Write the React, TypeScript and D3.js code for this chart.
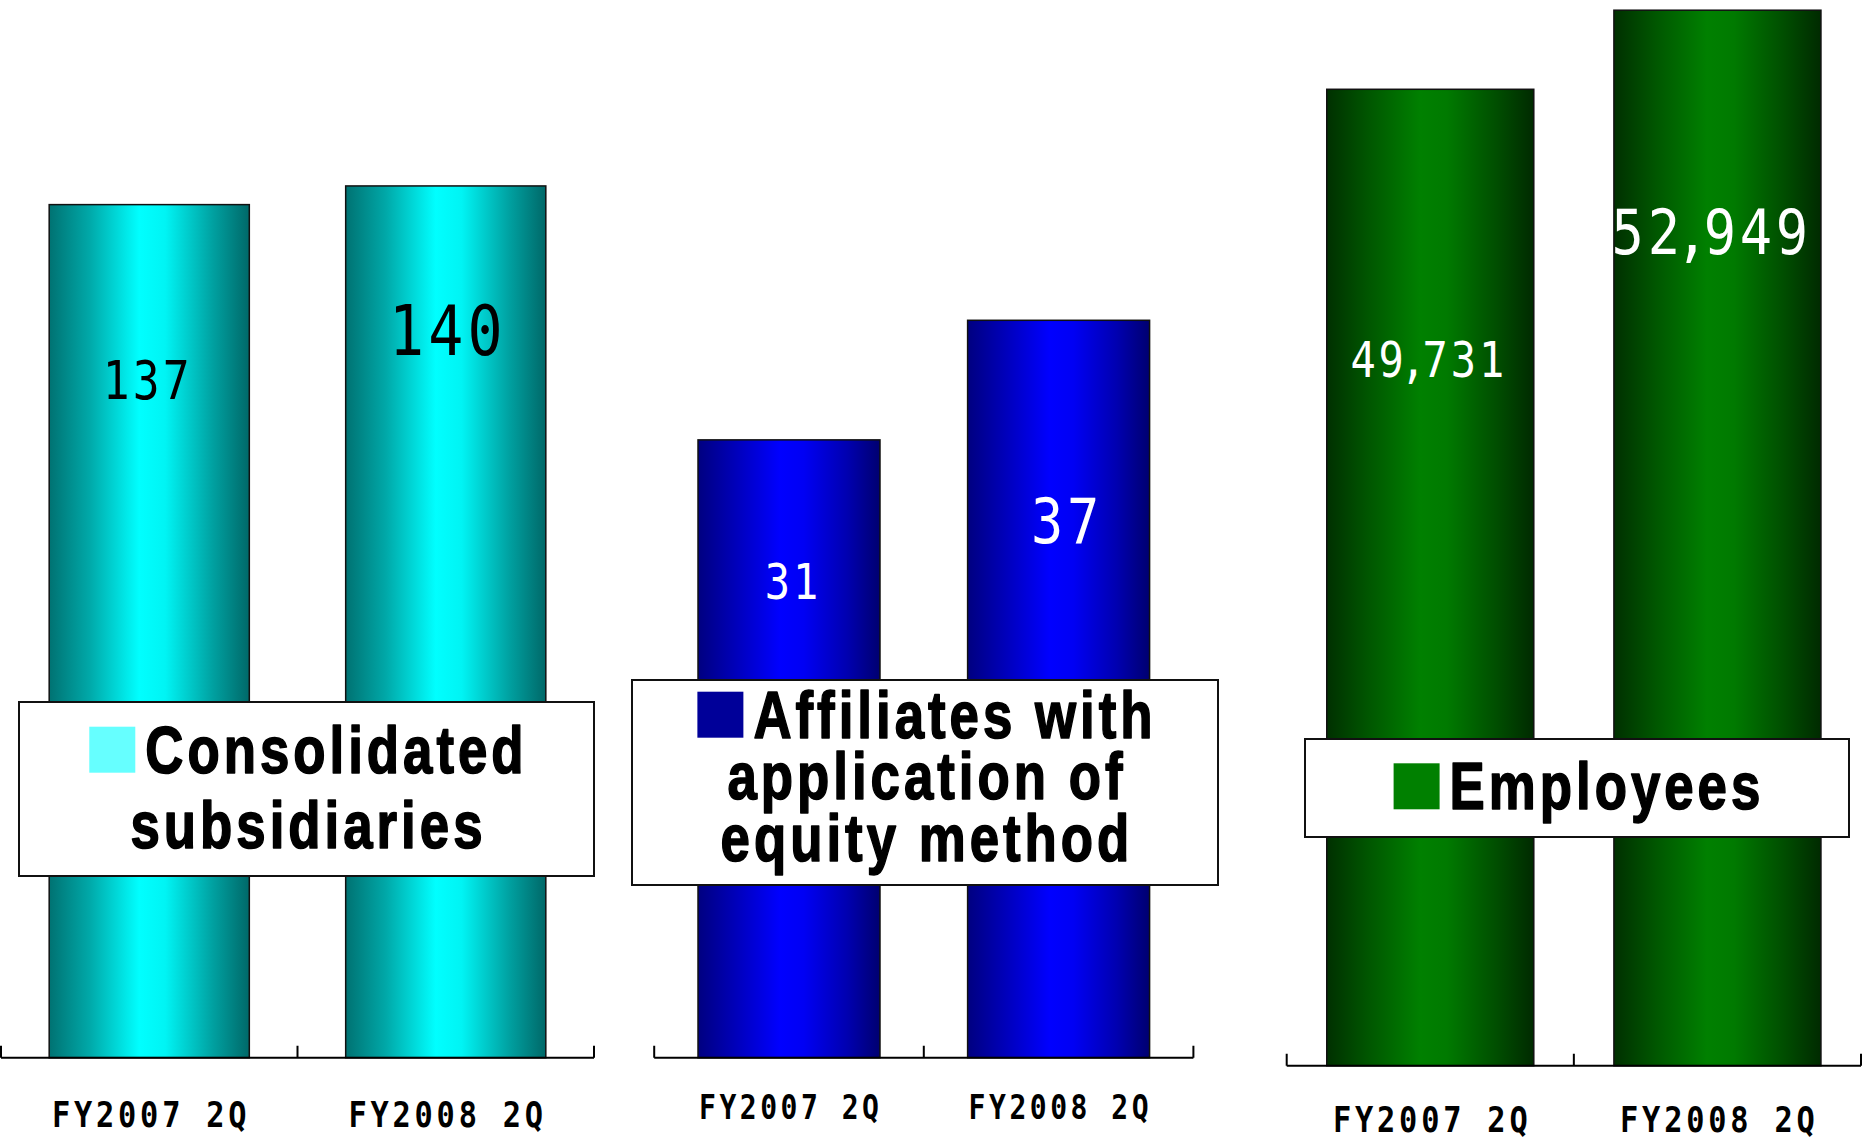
import React, { useEffect, useRef } from "react";
import * as d3 from "d3";

// ---------- data ----------
const categories = ["FY2007 2Q", "FY2008 2Q"];
const consolidatedValues = [137, 140];
const affiliateValues = [31, 37];
const employeeValues = [49731, 52949];
const consolidatedLegend = ["Consolidated", "subsidiaries"];
const affiliateLegend = ["Affiliates with", "application of", "equity method"];
const employeeLegend = ["Employees"];
const consolidatedDomain = [0, 160];
const affiliateDomain = [0, 50];
const employeeDomain = [10000, 55000];

// ---------- layout / style ----------
type Panel = {
  values: number[];
  legend: string[];
  domain: number[];
  x0: number; x1: number; base: number; top: number; pad: number;
  grad: [string, string][];
  swatch: string;
  labelColor: string;
  labelSize: number[]; labelDy: number[]; labelDx: number[];
  box: number[]; lh: number; firstBase: number;
  catDy: number; catSize: number;
};

const panels: Panel[] = [
  {
    values: consolidatedValues, legend: consolidatedLegend, domain: consolidatedDomain,
    x0: 1, x1: 594, base: 1057.7, top: 61.4, pad: 0.325,
    grad: [["0%", "#007272"], ["20%", "#00a8a8"], ["45%", "#00ffff"], ["58%", "#00f4f4"], ["82%", "#00a0a0"], ["100%", "#006868"]],
    swatch: "#66ffff", labelColor: "#000",
    labelSize: [52.5, 68.6], labelDy: [194.7, 168.7], labelDx: [-3, 0],
    box: [19, 702, 575, 174], lh: 75.6, firstBase: 772.7, catDy: 69.3, catSize: 35.7,
  },
  {
    values: affiliateValues, legend: affiliateLegend, domain: affiliateDomain,
    x0: 654.2, x1: 1193.4, base: 1057.7, top: 61.2, pad: 0.325,
    grad: [["0%", "#000080"], ["20%", "#0000b8"], ["45%", "#0000ff"], ["58%", "#0000f4"], ["82%", "#0000b0"], ["100%", "#000070"]],
    swatch: "#000099", labelColor: "#fff",
    labelSize: [49.4, 63.1], labelDy: [159, 223], labelDx: [2.5, 6.6],
    box: [632, 680, 586, 205], lh: 61.7, firstBase: 737.7, catDy: 61.3, catSize: 33,
  },
  {
    values: employeeValues, legend: employeeLegend, domain: employeeDomain,
    x0: 1286.7, x1: 1861, base: 1065.7, top: -40.2, pad: 0.279,
    grad: [["0%", "#003000"], ["20%", "#005600"], ["45%", "#008000"], ["58%", "#007a00"], ["82%", "#004e00"], ["100%", "#002a00"]],
    swatch: "#008000", labelColor: "#fff",
    labelSize: [49.4, 63.1], labelDy: [287.4, 244], labelDx: [-3, -7.6],
    box: [1305, 739, 544, 98], lh: 60, firstBase: 809.3, catDy: 66, catSize: 35.7,
  },
];

const LEGEND_FONT = "'Liberation Sans', Arial, sans-serif";
const MONO_FONT = "'DejaVu Sans Mono', monospace";
const LEGEND_SIZE = 66;
const LEGEND_SX = 0.8;
const LEGEND_LS = 5;
const MONO_SX = 0.85;
const VAL_LS = 0.07;
const COMMA_SHRINK = 0.3;
const fmt = d3.format(",");

export default function App() {
  const ref = useRef<SVGSVGElement>(null);

  useEffect(() => {
    const svg = d3.select(ref.current as SVGSVGElement);
    svg.selectAll("*").remove();
    const defs = svg.append("defs");

    panels.forEach((p, pi) => {
      const g = svg.append("g");
      const x = d3.scaleBand<string>().domain(categories).range([p.x0, p.x1])
        .paddingInner(p.pad).paddingOuter(p.pad / 2);
      const y = d3.scaleLinear().domain(p.domain).range([p.base, p.top]);
      const bw = x.bandwidth();

      const gid = `barGrad${pi}`;
      const lg = defs.append("linearGradient").attr("id", gid)
        .attr("x1", 0).attr("x2", 1).attr("y1", 0).attr("y2", 0);
      lg.selectAll("stop").data(p.grad).join("stop")
        .attr("offset", (d) => d[0]).attr("stop-color", (d) => d[1]);

      // bars
      g.selectAll("rect.bar").data(p.values).join("rect")
        .attr("class", "bar")
        .attr("x", (_d, i) => x(categories[i]) as number)
        .attr("y", (d) => y(d))
        .attr("width", bw)
        .attr("height", (d) => p.base - y(d))
        .attr("fill", `url(#${gid})`)
        .attr("stroke", "#111")
        .attr("stroke-width", 1.5);

      // value labels (monospace digits, narrowed comma cell)
      p.values.forEach((v, i) => {
        const fs = p.labelSize[i];
        const ls = fs * VAL_LS;
        const cx = (x(categories[i]) as number) + bw / 2 + p.labelDx[i] + (ls * MONO_SX) / 2;
        const t = g.append("text")
          .attr("transform", `translate(${cx},${y(v) + p.labelDy[i]}) scale(${MONO_SX},1)`)
          .attr("text-anchor", "middle")
          .attr("font-family", MONO_FONT)
          .attr("font-size", fs)
          .attr("letter-spacing", ls)
          .attr("fill", p.labelColor);
        const chars = fmt(v).split("");
        let dxs = chars.map(() => 0);
        chars.forEach((ch, ci) => {
          if (ch === ",") {
            dxs[ci] -= (COMMA_SHRINK * fs) / 2;
            if (ci + 1 < chars.length) dxs[ci + 1] -= (COMMA_SHRINK * fs) / 2;
          }
        });
        t.attr("dx", dxs.join(" ")).text(chars.join(""));
      });

      // axis
      const n = categories.length;
      const step = x.step();
      let dPath = `M${p.x0},${p.base}H${p.x1}`;
      for (let k = 0; k <= n; k++) {
        const tx = p.x0 + k * step;
        dPath += `M${tx},${p.base}V${p.base - 12}`;
      }
      g.append("path").attr("d", dPath).attr("stroke", "#000").attr("stroke-width", 2).attr("fill", "none");

      // category labels
      g.selectAll("text.cat").data(categories).join("text")
        .attr("class", "cat")
        .attr("transform", (c) => {
          const ls = p.catSize * 0.125;
          const cx = (x(c) as number) + bw / 2 + (ls * MONO_SX) / 2;
          return `translate(${cx},${p.base + p.catDy}) scale(${MONO_SX},1)`;
        })
        .attr("text-anchor", "middle")
        .attr("font-family", MONO_FONT)
        .attr("font-weight", "bold")
        .attr("font-size", p.catSize)
        .attr("letter-spacing", p.catSize * 0.125)
        .attr("fill", "#000")
        .text((c) => c);

      // legend
      const [bx, by, bwid, bh] = p.box;
      const lgG = g.append("g");
      lgG.append("rect").attr("x", bx).attr("y", by).attr("width", bwid).attr("height", bh)
        .attr("fill", "#fff").attr("stroke", "#111").attr("stroke-width", 2);
      const cxBox = bx + bwid / 2;
      const sw = 46;
      const gap = 10;
      p.legend.forEach((line, li) => {
        const baseY = p.firstBase + li * p.lh;
        const t = lgG.append("text")
          .attr("font-family", LEGEND_FONT)
          .attr("font-weight", "bold")
          .attr("font-size", LEGEND_SIZE)
          .attr("letter-spacing", LEGEND_LS)
          .attr("fill", "#000")
          .attr("stroke", "#000")
          .attr("stroke-width", 1.6)
          .attr("stroke-linejoin", "round")
          .text(line);
        const len = ((t.node() as SVGTextElement).getComputedTextLength() - LEGEND_LS) * LEGEND_SX;
        if (li === 0) {
          const total = sw + gap + len;
          const start = cxBox - total / 2;
          lgG.append("rect").attr("x", start).attr("y", baseY - sw).attr("width", sw).attr("height", sw)
            .attr("fill", p.swatch);
          t.attr("transform", `translate(${start + sw + gap},${baseY}) scale(${LEGEND_SX},1)`);
        } else {
          t.attr("transform", `translate(${cxBox - len / 2},${baseY}) scale(${LEGEND_SX},1)`);
        }
      });
    });
  }, []);

  return (
    <div style={{ position: "absolute", left: 0, top: 0, background: "#fff" }}>
      <svg ref={ref} width={1864} height={1138} style={{ display: "block" }} />
    </div>
  );
}
